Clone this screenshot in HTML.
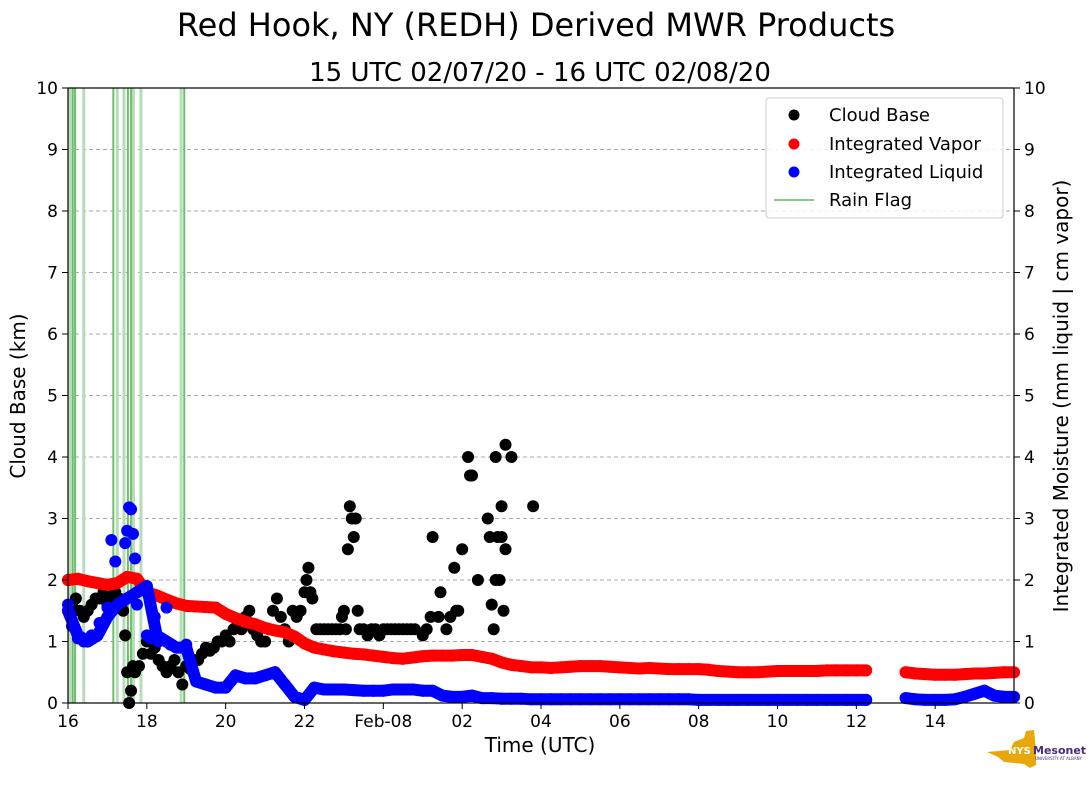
<!DOCTYPE html>
<html><head><meta charset="utf-8">
<style>
body{margin:0;background:#fff;}
svg{display:block;font-family:"DejaVu Sans","Liberation Sans",sans-serif;}
</style></head>
<body>
<svg id="chart" width="1089" height="804" viewBox="0 0 1089 804" xmlns="http://www.w3.org/2000/svg">
<text x="536" y="36" font-size="32" text-anchor="middle">Red Hook, NY (REDH) Derived MWR Products</text>
<text x="540" y="81" font-size="26" text-anchor="middle">15 UTC 02/07/20 - 16 UTC 02/08/20</text>
<g id="grid"></g>
<g id="rain"></g>
<g id="marks"></g>
<rect x="68" y="88" width="946" height="615" fill="none" stroke="#000" stroke-width="1.2"/>
<g id="axes" font-size="17"></g>
<text x="540" y="752" font-size="20" text-anchor="middle">Time (UTC)</text>
<text transform="translate(25,396) rotate(-90)" font-size="20" text-anchor="middle">Cloud Base (km)</text>
<text transform="translate(1068,396) rotate(-90)" font-size="20" text-anchor="middle">Integrated Moisture (mm liquid | cm vapor)</text>
<g>
<rect x="766" y="98" width="237" height="120" rx="3" fill="#fff" fill-opacity="0.85" stroke="#ccc"/>
<circle cx="794" cy="115" r="5.5" fill="#000"/>
<text x="829" y="121" font-size="18">Cloud Base</text>
<circle cx="794" cy="144" r="5.5" fill="#f00"/>
<text x="829" y="150" font-size="18">Integrated Vapor</text>
<circle cx="794" cy="172" r="5.5" fill="#00f"/>
<text x="829" y="178" font-size="18">Integrated Liquid</text>
<line x1="774" y1="200" x2="814" y2="200" stroke="#5cb85c" stroke-width="1.5"/>
<text x="829" y="206" font-size="18">Rain Flag</text>
</g>
<g>
<path d="M987 752 L1010 750 L1014 742 L1024 738 L1026 731 L1034 730 L1036 750 L1036 765 L1030 768 L1024 764 L1004 762 L998 757 Z" fill="#e8a80c"/>
<text x="1008" y="754" font-size="10" font-weight="bold" fill="#fff">NYS</text>
<text x="1033" y="754" font-size="11" font-weight="bold" fill="#4b2a7b">Mesonet</text>
<text x="1035" y="760" font-size="4" fill="#4b2a7b">UNIVERSITY AT ALBANY</text>
</g>
</svg>
<script>
// hours since 16 UTC 02/07/20
const xTickLabels = ["16","18","20","22","Feb-08","02","04","06","08","10","12","14"];
const yTicks = [0,1,2,3,4,5,6,7,8,9,10];
// vapor every 0.25 h from t=0 (null = missing)
const vapor = [2.0,2.02,1.98,1.95,1.92,1.95,2.05,2.02,1.8,1.75,1.68,1.62,1.58,1.57,1.56,1.55,
1.45,1.38,1.32,1.28,1.22,1.18,1.15,1.08,0.97,0.9,0.87,0.84,0.82,0.8,0.79,0.77,
0.75,0.73,0.72,0.74,0.76,0.77,0.77,0.77,0.78,0.78,0.75,0.72,0.66,0.62,0.6,0.58,
0.58,0.57,0.58,0.59,0.6,0.6,0.6,0.59,0.58,0.57,0.56,0.57,0.56,0.55,0.55,0.55,
0.55,0.54,0.52,0.51,0.5,0.5,0.5,0.51,0.52,0.52,0.52,0.52,0.52,0.53,0.53,0.53,
0.53,0.53,null,null,null,0.5,0.48,0.47,0.46,0.46,0.46,0.47,0.48,0.48,0.49,0.5,0.5];
const liquid = [1.5,1.1,1.0,1.1,1.4,1.6,1.7,1.8,1.9,1.1,1.0,0.9,0.9,0.35,0.3,0.25,
0.25,0.45,0.4,0.4,0.45,0.5,0.3,0.1,0.05,0.25,0.22,0.22,0.22,0.21,0.2,0.2,
0.2,0.22,0.22,0.22,0.2,0.2,0.12,0.1,0.1,0.12,0.08,0.08,0.07,0.07,0.07,0.06,
0.06,0.06,0.06,0.06,0.06,0.06,0.06,0.06,0.06,0.06,0.06,0.06,0.06,0.06,0.06,0.06,
0.05,0.05,0.05,0.05,0.05,0.05,0.05,0.05,0.05,0.05,0.05,0.05,0.05,0.05,0.05,0.05,
0.05,0.05,null,null,null,0.08,0.06,0.05,0.05,0.05,0.06,0.1,0.15,0.2,0.12,0.1,0.1];
const liquidExtraT = [1.1,1.2,1.45,1.5,1.55,1.6,1.65,1.7,1.75,2.2,2.5,0.0,0.05,0.1,2.0,2.1,2.3,2.6,2.8,3.0,0.25,0.4,0.6,0.8,1.0];
const liquidExtraV = [2.65,2.3,2.6,2.8,3.18,3.15,2.75,2.35,1.6,1.4,1.55,1.6,1.45,1.25,1.1,1.05,1.0,0.95,0.9,0.95,1.05,1.0,1.1,1.3,1.55];
// cloud base [time, km]
const cloudBase = [
[0,1.5],[0.1,1.6],[0.2,1.7],[0.3,1.5],[0.4,1.4],[0.5,1.5],[0.6,1.6],[0.7,1.7],[0.8,1.7],[0.9,1.8],
[1.0,1.6],[1.1,1.7],[1.2,1.8],[1.3,1.7],[1.4,1.5],[1.45,1.1],[1.5,0.5],[1.55,0.0],[1.6,0.2],[1.65,0.6],
[1.7,0.5],[1.8,0.6],[1.9,0.8],[2.0,1.0],[2.1,0.8],[2.2,0.9],[2.3,0.7],[2.4,0.6],[2.5,0.5],[2.6,0.6],
[2.7,0.7],[2.8,0.5],[2.9,0.3],[3.0,0.6],[3.1,0.55],[3.2,0.7],[3.3,0.7],[3.4,0.8],[3.5,0.9],[3.6,0.85],
[3.7,0.9],[3.8,1.0],[3.9,1.0],[4.0,1.1],[4.1,1.0],[4.2,1.2],[4.3,1.3],[4.4,1.2],[4.5,1.4],[4.6,1.5],
[4.7,1.2],[4.8,1.1],[4.9,1.0],[5.0,1.0],[5.1,1.2],[5.2,1.5],[5.3,1.7],[5.4,1.4],[5.5,1.2],[5.6,1.0],
[5.7,1.5],[5.8,1.4],[5.9,1.5],[6.0,1.8],[6.05,2.0],[6.1,2.2],[6.15,1.8],[6.2,1.7],[6.3,1.2],[6.4,1.2],
[6.5,1.2],[6.6,1.2],[6.7,1.2],[6.8,1.2],[6.9,1.2],[6.95,1.4],[7.0,1.5],[7.05,1.2],[7.1,2.5],[7.15,3.2],
[7.2,3.0],[7.25,2.7],[7.3,3.0],[7.35,1.5],[7.4,1.2],[7.5,1.2],[7.6,1.1],[7.7,1.2],[7.8,1.2],[7.9,1.1],
[8.0,1.2],[8.1,1.2],[8.2,1.2],[8.3,1.2],[8.4,1.2],[8.5,1.2],[8.6,1.2],[8.7,1.2],[8.8,1.2],[9.0,1.1],
[9.1,1.2],[9.2,1.4],[9.25,2.7],[9.4,1.4],[9.45,1.8],[9.6,1.2],[9.7,1.4],[9.8,2.2],[9.85,1.5],[9.9,1.5],
[10.0,2.5],[10.15,4.0],[10.2,3.7],[10.25,3.7],[10.4,2.0],[10.65,3.0],[10.7,2.7],[10.75,1.6],[10.8,1.2],[10.85,4.0],
[10.9,2.7],[10.85,2.0],[10.95,2.0],[11.0,3.2],[11.05,1.5],[11.0,2.7],[11.1,2.5],[11.1,4.2],[11.25,4.0],[11.8,3.2]];
const cbT = cloudBase.map(p=>p[0]);
const cbV = cloudBase.map(p=>p[1]);
const rainT = [0.05,0.12,0.18,0.4,1.15,1.25,1.42,1.52,1.6,1.66,1.85,2.87,2.95];
const rainDark = [0,1,1,0,1,0,0,1,1,0,0,0,1];

const NS="http://www.w3.org/2000/svg";
const X0=68,X1=1014,Y0=703,Y1=88,T=24,YM=10;
const xs=t=>X0+(X1-X0)*t/T, ys=v=>Y0-(Y0-Y1)*v/YM;
function mk(tag,attrs,parent){const e=document.createElementNS(NS,tag);for(const k in attrs)e.setAttribute(k,attrs[k]);document.getElementById(parent).appendChild(e);return e;}
yTicks.forEach(v=>{
  if(v>0&&v<10){const g=mk('line',{x1:X0,x2:X1,y1:ys(v),y2:ys(v),stroke:'#aaa','stroke-dasharray':'4,3'},'grid');
  
  }
  [[X0,-1],[X1,1]].forEach(([x,d])=>{
    const tk=mk('line',{x1:x,x2:x+6*d,y1:ys(v),y2:ys(v),stroke:'#000'},'axes');
    
    
    const tl=mk('text',{x:d<0?x-10:x+10,y:ys(v)+6,'text-anchor':d<0?'end':'start'},'axes');
    tl.textContent=v;
    
    
  });
});
xTickLabels.forEach((l,i)=>{
  const x=xs(i*2);
  const tk=mk('line',{x1:x,x2:x,y1:Y0,y2:Y0+6,stroke:'#000'},'axes');
  
  
  const tl=mk('text',{x:x,y:Y0+24,'text-anchor':'middle'},'axes');
  tl.textContent=l;
  
  
});
rainT.forEach((t,i)=>{
  const r=mk('line',{x1:xs(t),x2:xs(t),y1:Y1,y2:Y0,stroke:rainDark[i]?'#6dbf6d':'#b7dcb7','stroke-width':rainDark[i]?2:3},'rain');
  
  
});
function dot(t,v,c,name){
  const d=mk('circle',{cx:xs(t),cy:ys(v),r:6,fill:c},'marks');
  
  
}
function band(arr,c,name){
  let seg=[];
  const flush=()=>{
    if(seg.length>1){
      const p=mk('polyline',{points:seg.join(' '),fill:'none',stroke:c,'stroke-width':12,'stroke-linecap':'round','stroke-linejoin':'round'},'marks');
      
      
    }
    seg=[];
  };
  arr.forEach((v,i)=>{if(v===null)flush();else seg.push(xs(i*0.25)+','+ys(v));});
  flush();
}
cbT.forEach((t,i)=>dot(t,cbV[i],'#000','cloud-base-point'));
band(vapor,'#f00','vapor-band');
vapor.forEach((v,i)=>{if(v!==null)dot(i*0.25,v,'#f00','vapor-point');});
band(liquid,'#00f','liquid-band');
liquid.forEach((v,i)=>{if(v!==null)dot(i*0.25,v,'#00f','liquid-point');});
liquidExtraT.forEach((t,i)=>dot(t,liquidExtraV[i],'#00f','liquid-point'));
</script>
</body></html>
